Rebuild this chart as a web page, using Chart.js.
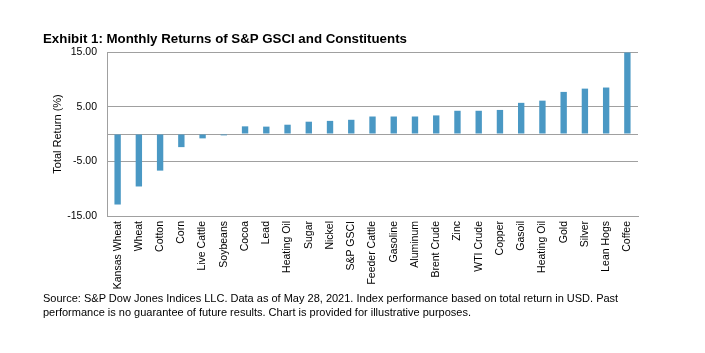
<!DOCTYPE html>
<html>
<head>
<meta charset="utf-8">
<script src="https://cdn.jsdelivr.net/npm/chart.js@4/dist/chart.umd.min.js"></script>
<style>
  html, body { margin: 0; padding: 0; background: #fff; }
  #wrap { position: relative; width: 705px; height: 353px; overflow: hidden; font-family: "Liberation Sans", Arial, sans-serif; }
  #title { position: absolute; left: 43px; top: 31px; font-size: 13.3px; font-weight: bold; color: #000; white-space: nowrap; }
  #note { position: absolute; left: 43px; top: 291px; font-size: 11px; line-height: 14px; color: #000; }
  #cv { position: absolute; left: 0; top: 0; }
</style>
</head>
<body>
<div id="wrap">
  <canvas id="cv" width="705" height="353"></canvas>
  <div id="title">Exhibit 1: Monthly Returns of S&amp;P GSCI and Constituents</div>
  <div id="note">Source: S&amp;P Dow Jones Indices LLC. Data as of May 28, 2021. Index performance based on total return in USD. Past<br>performance is no guarantee of future results. Chart is provided for illustrative purposes.</div>
</div>
<script>
const categories = ["Kansas Wheat","Wheat","Cotton","Corn","Live Cattle","Soybeans","Cocoa","Lead","Heating Oil","Sugar","Nickel","S&P GSCI","Feeder Cattle","Gasoline","Aluminum","Brent Crude","Zinc","WTI Crude","Copper","Gasoil","Heating Oil","Gold","Silver","Lean Hogs","Coffee"];
const returns = [-12.9,-9.6,-6.7,-2.4,-0.8,-0.25,1.4,1.35,1.7,2.25,2.4,2.6,3.2,3.2,3.2,3.4,4.25,4.25,4.4,5.7,6.1,7.7,8.3,8.5,14.9];
const yTicks = [-15,-5,0,5,15];

new Chart(document.getElementById('cv'), {
  type: 'bar',
  data: {
    labels: categories,
    datasets: [{
      data: returns,
      backgroundColor: '#4a98c4',
      borderWidth: 0,
      barPercentage: 0.3,
      categoryPercentage: 1.0
    }]
  },
  options: {
    responsive: false,
    animation: false,
    plugins: { legend: { display: false }, tooltip: { enabled: false } },
    layout: { padding: { top: 52, right: 67, left: 51, bottom: 0 } },
    scales: {
      x: {
        grid: { display: false, drawTicks: false },
        border: { display: true, color: '#a0a0a0' },
        ticks: {
          minRotation: 90, maxRotation: 90, autoSkip: false, padding: 5,
          color: '#000', font: { family: '"Liberation Sans", Arial, sans-serif', size: 10.5 }
        },
        afterFit: (s) => { s.height = 137; }
      },
      y: {
        min: -15, max: 15,
        afterBuildTicks: (s) => { s.ticks = yTicks.map(v => ({ value: v })); },
        grid: { color: '#a0a0a0', drawTicks: false, lineWidth: 1 },
        border: { display: true, color: '#a0a0a0' },
        ticks: {
          padding: 10, color: '#000',
          font: { family: '"Liberation Sans", Arial, sans-serif', size: 10.5 },
          callback: (v) => v === 0 ? '' : Number(v).toFixed(2)
        },
        title: {
          display: true, text: 'Total Return (%)', color: '#000',
          font: { family: '"Liberation Sans", Arial, sans-serif', size: 11 },
          padding: 0
        },
        afterFit: (s) => { s.width = 56; }
      }
    }
  }
});
</script>
</body>
</html>
